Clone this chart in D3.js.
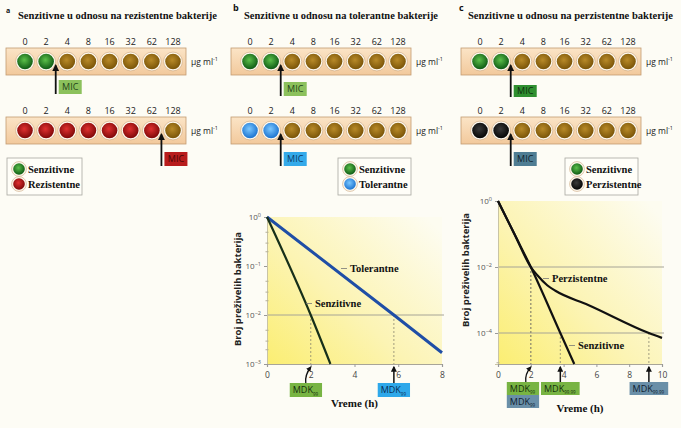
<!DOCTYPE html>
<html><head><meta charset="utf-8">
<script src="https://cdn.jsdelivr.net/npm/d3@7"></script>
<style>
body{margin:0;background:#fdfcf5;}
svg{display:block;}
</style></head><body>
<svg id="fig" width="681" height="428"></svg>
<script>
// ---------- DATA ----------
const concentrations = ["0","2","4","8","16","32","62","128"];
const panelLetters = ["a","b","c"];
const panelTitles = [
  "Senzitivne u odnosu na rezistentne bakterije",
  "Senzitivne u odnosu na tolerantne bakterije",
  "Senzitivne u odnosu na perzistentne bakterije"
];
// well growth state: S sensitive, R resistant, T tolerant, P persistent, G no growth
const wellsA1 = ["S","S","G","G","G","G","G","G"];
const wellsA2 = ["R","R","R","R","R","R","R","G"];
const wellsB1 = ["S","S","G","G","G","G","G","G"];
const wellsB2 = ["T","T","G","G","G","G","G","G"];
const wellsC1 = ["S","S","G","G","G","G","G","G"];
const wellsC2 = ["P","P","G","G","G","G","G","G"];
const legendA = [["S","Senzitivne"],["R","Rezistentne"]];
const legendB = [["S","Senzitivne"],["T","Tolerantne"]];
const legendC = [["S","Senzitivne"],["P","Perzistentne"]];
const micLabel = "MIC";
const unitLabel = "µg ml";

// chart b (survival vs time)
const timeSensB = [0, 2, 2.9];
const survSensB = [1, 1e-2, 1e-3];
const timeTolB  = [0, 5.8, 8];
const survTolB  = [1, 1e-2, 1.7e-3];
const xTicksB = [0, 2, 4, 6, 8];
const yTicksB = [1, 1e-1, 1e-2, 1e-3];
const mdkB = [
  {t:2,   level:1e-2, sub:"99", kind:"S"},
  {t:5.8, level:1e-2, sub:"99", kind:"T"}
];

// chart c
const timeSensC = [0, 1, 2, 3.8, 4.65];
const survSensC = [1, 1e-1, 1e-2, 1e-4, 1.15e-5];
const timePersC = [0, 1, 2, 2.4, 3, 3.5, 5.5, 9.2, 10];
const survPersC = [1, 1e-1, 1e-2, 5.6e-3, 2.8e-3, 1.9e-3, 7.1e-4, 1e-4, 7.1e-5];
const xTicksC = [0, 2, 4, 6, 8, 10];
const yTicksC = [1, 1e-2, 1e-4];
const mdkC = [
  {t:2,   level:1e-2, sub:"99",    kind:"S"},
  {t:2,   level:1e-2, sub:"99",    kind:"P"},
  {t:3.8, level:1e-4, sub:"99.99", kind:"S"},
  {t:9.2, level:1e-4, sub:"99.99", kind:"P"}
];
const yTitle = "Broj preživelih bakterija";
const xTitle = "Vreme (h)";

// ---------- STYLE ----------
const wellCol = {
  S:["#5cc04a","#0e5a14"], R:["#e03030","#7e0808"], T:["#7cc8ff","#1a72d0"],
  P:["#3a3a3a","#050505"], G:["#b88a28","#7a5408"]
};
const micBox = [
  [{fill:"#8cc15c", text:"#24461a"}, {fill:"#b81c1c", text:"#4a0606"}],
  [{fill:"#8cc15c", text:"#24461a"}, {fill:"#34aaea", text:"#0d3a66"}],
  [{fill:"#2f8f30", text:"#0e2e0e"}, {fill:"#4f7d93", text:"#10222c"}]
];
const mdkFill = {S:"#78b443", T:"#2ea8ea", P:"#6a8fa8"};
const mdkText = {S:"#15300c", T:"#0a2e55", P:"#102230"};
const serif = "'Liberation Serif','DejaVu Serif',serif";
const sans = "'Open Sans','DejaVu Sans',sans-serif";

const svg = d3.select("#fig");
const defs = svg.append("defs");
Object.entries(wellCol).forEach(([k,c])=>{
  const g = defs.append("radialGradient").attr("id","w"+k).attr("cx","45%").attr("cy","40%").attr("r","60%");
  g.append("stop").attr("offset","0%").attr("stop-color",c[0]);
  g.append("stop").attr("offset","100%").attr("stop-color",c[1]);
});
const sg = defs.append("linearGradient").attr("id","strip").attr("x1",0).attr("y1",0).attr("x2",0).attr("y2",1);
sg.append("stop").attr("offset","0%").attr("stop-color","#fbe4c6");
sg.append("stop").attr("offset","100%").attr("stop-color","#f2c99c");
const pg = defs.append("linearGradient").attr("id","plotfill").attr("x1",0).attr("y1",1).attr("x2",1).attr("y2",0.1);
pg.append("stop").attr("offset","0%").attr("stop-color","#fbee72");
pg.append("stop").attr("offset","45%").attr("stop-color","#fcf4b4");
pg.append("stop").attr("offset","100%").attr("stop-color","#fdfcf0");
defs.append("marker").attr("id","arr").attr("viewBox","0 0 10 10").attr("refX",8).attr("refY",5)
  .attr("markerWidth",4).attr("markerHeight",4).attr("orient","auto-start-reverse")
  .append("path").attr("d","M0,0L10,5L0,10z").attr("fill","#111");

svg.append("rect").attr("width",681).attr("height",428).attr("fill","#fdfcf5");

// ---------- WELL PANELS ----------
const panelX = [0, 225, 455];
const rows = [[wellsA1,wellsA2],[wellsB1,wellsB2],[wellsC1,wellsC2]];
const legends = [legendA, legendB, legendC];
const titleW = [199, 194, 205];
const titleX = [18, 19, 13];
const letterX = [6, 8, 4];
const legendX = [7, 113, 110];
const micBoxY1 = [80, 82, 85];

const wx = d3.scalePoint().domain(concentrations).range([25, 173]);

function drawWell(g, cx, cy, kind, r){
  g.append("circle").attr("cx",cx).attr("cy",cy).attr("r",r+1.6)
    .attr("fill","#fffaf0").attr("stroke","#c9a47c").attr("stroke-width",0.6);
  g.append("circle").attr("cx",cx).attr("cy",cy).attr("r",r).attr("fill","url(#w"+kind+")");
}

rows.forEach((pair, p)=>{
  const g = svg.append("g").attr("transform",`translate(${panelX[p]},0)`);
  g.append("text").attr("x",letterX[p]).attr("y",p===0?13:11).text(panelLetters[p])
    .attr("font-family",sans).attr("font-weight","bold").attr("font-size",p===0?7:9).attr("fill","#111");
  g.append("text").attr("x",titleX[p]).attr("y",19).text(panelTitles[p])
    .attr("font-family",serif).attr("font-weight","bold").attr("font-size",11).attr("fill","#111")
    .attr("textLength",titleW[p]).attr("lengthAdjust","spacingAndGlyphs");
  pair.forEach((wells, r)=>{
    const top = r===0 ? 48 : 117;
    const cy = top + 13.5;
    g.selectAll(null).data(concentrations).join("text")
      .attr("x",d=>wx(d)).attr("y",top-3).attr("text-anchor","middle").text(d=>d)
      .attr("font-family",sans).attr("font-size",9).attr("fill","#222");
    g.append("rect").attr("x",6).attr("y",top).attr("width",180).attr("height",27)
      .attr("fill","url(#strip)").attr("stroke","#c29c72").attr("stroke-width",0.8);
    wells.forEach((k,i)=>drawWell(g, wx(concentrations[i]), cy, k, 7.8));
    const u = g.append("text").attr("x",191).attr("y",cy+3).attr("font-family",sans).attr("font-size",8.5).attr("fill","#222").text(unitLabel);
    u.append("tspan").attr("dy",-3.5).attr("font-size",5.5).text("-1");
    // MIC: first index with no growth
    const idx = wells.indexOf("G");
    const ax = (wx(concentrations[idx-1]) + wx(concentrations[idx]))/2 - 1;
    const by = r===0 ? micBoxY1[p] : 152;
    const bh = r===0 && p===2 ? 12 : 14;
    g.append("line").attr("x1",ax).attr("x2",ax).attr("y1",by+bh).attr("y2",cy+4)
      .attr("stroke","#111").attr("stroke-width",1.8).attr("marker-end","url(#arr)");
    const mb = micBox[p][r];
    g.append("rect").attr("x",ax+3).attr("y",by).attr("width",23).attr("height",bh).attr("fill",mb.fill);
    g.append("text").attr("x",ax+14.5).attr("y",by+bh/2+3.3).attr("text-anchor","middle").text(micLabel)
      .attr("font-family",sans).attr("font-size",9).attr("fill",mb.text);
  });
  // legend
  const lg = g.append("g").attr("transform",`translate(${legendX[p]},158)`);
  lg.append("rect").attr("width",p===0?75:73).attr("height",37).attr("fill","#fffef8").attr("stroke","#a8a8a0").attr("stroke-width",0.8);
  legends[p].forEach(([k,lab],i)=>{
    drawWell(lg, 12, 11+i*15, k, 5.8);
    lg.append("text").attr("x",21).attr("y",15+i*15).text(lab)
      .attr("font-family",serif).attr("font-weight","bold").attr("font-size",10.5).attr("fill","#111");
  });
});

// ---------- SURVIVAL CHARTS ----------
function supLabel(sel){
  sel.each(function(d){
    const t = d3.select(this); const e = Math.round(Math.log10(d));
    t.text("10");
    t.append("tspan").attr("dy",-3.5).attr("font-size",5.5).text(e===0?"0":"\u2212"+(-e));
  });
}

function chart(cfg){
  const {x, y, xTicks, yTicks, minor, lines, mdk, labels, hlines, yTitleX, yTitleY, boxTop, boxH} = cfg;
  const [x0,x1] = x.range(), [y0,y1] = y.range();
  const g = svg.append("g");
  g.append("rect").attr("x",x0).attr("y",y0).attr("width",x1-x0).attr("height",y1-y0).attr("fill","url(#plotfill)");
  hlines.forEach(v=>g.append("line").attr("x1",x0).attr("x2",x1+2).attr("y1",y(v)).attr("y2",y(v))
    .attr("stroke","#a6a496").attr("stroke-width",1));
  // dashed MDK guides
  mdk.forEach(m=>g.append("line").attr("x1",x(m.t)).attr("x2",x(m.t)).attr("y1",y(m.level)).attr("y2",y1)
    .attr("stroke","#8a8670").attr("stroke-width",0.8).attr("stroke-dasharray","2,2"));
  // axes
  const ya = g.append("g").attr("transform",`translate(${x0},0)`)
    .call(d3.axisLeft(y).tickValues(yTicks).tickSize(3));
  ya.select(".domain").attr("stroke","#c9c4a4");
  ya.selectAll(".tick line").attr("stroke","#999");
  ya.selectAll(".tick text").attr("font-family",sans).attr("font-size",8).attr("fill","#555").call(supLabel);
  const ym = g.append("g").attr("transform",`translate(${x0+1.5},0)`)
    .call(d3.axisLeft(y).tickValues(minor).tickSize(3).tickFormat(""));
  ym.select(".domain").remove();
  ym.selectAll(".tick line").attr("stroke","#b5b095");
  const xa = g.append("g").attr("transform",`translate(0,${y1})`)
    .call(d3.axisBottom(x).tickValues(xTicks).tickSize(3).tickFormat(d3.format("d")));
  xa.select(".domain").attr("stroke","#a8a598").attr("stroke-width",1.2);
  xa.selectAll(".tick line").attr("stroke","#999");
  xa.selectAll(".tick text").attr("font-family",sans).attr("font-size",8.5).attr("fill","#444").attr("dy","0.9em");
  // curves
  lines.forEach(L=>{
    g.append("path").datum(d3.zip(L.t, L.v)).attr("fill","none").attr("stroke",L.color)
      .attr("stroke-width",L.w).attr("stroke-linejoin","round")
      .attr("d", d3.line().x(d=>x(d[0])).y(d=>y(d[1])).curve(d3.curveMonotoneX));
  });
  // curve labels
  labels.forEach(l=>{
    g.append("line").attr("x1",l.x-9).attr("x2",l.x-3).attr("y1",l.y-3.5).attr("y2",l.y-3.5).attr("stroke","#777").attr("stroke-width",0.8);
    g.append("text").attr("x",l.x).attr("y",l.y).text(l.text)
      .attr("font-family",serif).attr("font-weight","bold").attr("font-size",10.5).attr("fill","#111");
  });
  // MDK boxes + arrows
  const seen = {};
  mdk.forEach(m=>{
    const k = m.t; const stack = seen[k]||0; seen[k]=stack+1;
    const bt = boxTop + stack*boxH;
    const tg = g.append("g");
    const tx = tg.append("text").attr("font-family",sans).attr("font-size",9).attr("fill",mdkText[m.kind]).text("MDK");
    tx.append("tspan").attr("dy",2.5).attr("font-size",4.5).text(m.sub);
    const tw = tx.node().getComputedTextLength();
    const bw = tw + 7;
    const curved = m.t === 2;
    const bx = curved ? x(m.t) - cfg.curveOff : x(m.t) - bw/2;
    tg.insert("rect","text").attr("x",bx).attr("y",bt).attr("width",bw).attr("height",boxH).attr("fill",mdkFill[m.kind]);
    tx.attr("x",bx+3).attr("y",bt+boxH/2+3);
    if(stack===0){
      if(curved){
        const sx = x(m.t)-5;
        g.append("path").attr("d",`M${sx},${bt}Q${sx-1},${bt-8} ${x(m.t)},${y1+3}`).attr("fill","none")
          .attr("stroke","#111").attr("stroke-width",1.3).attr("marker-end","url(#arr)");
      } else {
        g.append("line").attr("x1",x(m.t)).attr("x2",x(m.t)).attr("y1",bt).attr("y2",y1+3)
          .attr("stroke","#111").attr("stroke-width",1.5).attr("marker-end","url(#arr)");
      }
    }
  });
  // titles
  g.append("text").attr("transform",`translate(${yTitleX},${yTitleY}) rotate(-90)`).attr("text-anchor","middle")
    .text(yTitle).attr("font-family",sans).attr("font-weight","bold").attr("font-size",9.5).attr("fill","#222");
  g.append("text").attr("x",(x0+x1)/2).attr("y",cfg.xTitleY).attr("text-anchor","middle").text(xTitle)
    .attr("font-family",serif).attr("font-weight","bold").attr("font-size",11).attr("fill","#111");
}

const xB = d3.scaleLinear().domain([0,8]).range([267,442]);
const yB = d3.scaleLog().domain([1,1e-3]).range([217,364]);
chart({
  x:xB, y:yB, xTicks:xTicksB, yTicks:yTicksB,
  minor:[5e-1,3e-1,2e-1,5e-2,3e-2,2e-2,5e-3,3e-3,2e-3],
  hlines:[1e-2],
  lines:[
    {t:timeTolB, v:survTolB, color:"#1f4ea6", w:3},
    {t:timeSensB, v:survSensB, color:"#17301a", w:2.2}
  ],
  mdk:mdkB,
  labels:[{x:350,y:272,text:"Tolerantne"},{x:315,y:307,text:"Senzitivne"}],
  yTitleX:241, yTitleY:289, xTitleY:407, boxTop:383, boxH:14, curveOff:21
});

const xC = d3.scaleLinear().domain([0,10]).range([498,662]);
const yC = d3.scaleLog().domain([1,1.15e-5]).range([201,364]);
chart({
  x:xC, y:yC, xTicks:xTicksC, yTicks:yTicksC,
  minor:[1.3e-5],
  hlines:[1e-2,1e-4],
  lines:[
    {t:timePersC, v:survPersC, color:"#111", w:2.2},
    {t:timeSensC, v:survSensC, color:"#111", w:2.2}
  ],
  mdk:mdkC,
  labels:[{x:552,y:282,text:"Perzistentne"},{x:578,y:349,text:"Senzitivne"}],
  yTitleX:469, yTitleY:270, xTitleY:412, boxTop:382, boxH:13, curveOff:24
});
</script>
</body></html>
